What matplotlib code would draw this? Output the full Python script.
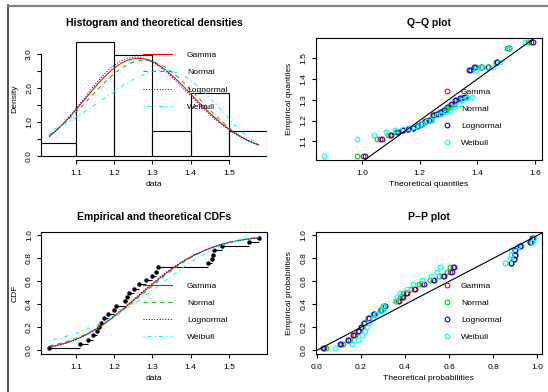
import math
import numpy as np
import matplotlib
matplotlib.use('Agg')
import matplotlib.pyplot as plt
from matplotlib.lines import Line2D

plt.rcParams['font.family'] = ['Liberation Sans', 'DejaVu Sans']
plt.rcParams['font.size'] = 6.1
plt.rcParams['axes.linewidth'] = 0.8

obs = np.array([1.030, 1.109, 1.130, 1.143, 1.154, 1.160, 1.165, 1.174, 1.184,
                1.198, 1.204, 1.227, 1.233, 1.239, 1.252, 1.265, 1.282, 1.298,
                1.310, 1.315, 1.445, 1.457, 1.459, 1.460, 1.483, 1.552, 1.578])
hist_breaks = [1.0, 1.1, 1.2, 1.3, 1.4, 1.5, 1.6]
fit_names = ['Gamma', 'Normal', 'Lognormal', 'Weibull']
fit_colors = ['#FF0000', '#00CD00', '#0000FF', '#00FFFF']
fit_styles = ['-', (0, (4, 4)), (0, (1, 1.6)), (0, (1, 3, 4, 3))]

n = len(obs)
pp = (np.arange(1, n + 1) - 0.5) / n


# ---- maximum likelihood fits ----
def digamma(x):
    r = 0.0
    while x < 6:
        r -= 1.0 / x
        x += 1.0
    f = 1.0 / (x * x)
    return r + math.log(x) - 0.5 / x - f * (1/12 - f * (1/120 - f * (1/252 - f * (1/240 - f / 132))))


def bisect(fn, lo, hi):
    for _ in range(200):
        mid = math.sqrt(lo * hi)
        if fn(mid) > 0:
            hi = mid
        else:
            lo = mid
    return mid


lx = np.log(obs)
mu, sd = obs.mean(), obs.std()
mlog, slog = lx.mean(), lx.std()
s_g = math.log(obs.mean()) - lx.mean()
g_shape = bisect(lambda k: s_g - (math.log(k) - digamma(k)), 0.01, 1e5)
g_rate = g_shape / obs.mean()
w_shape = bisect(lambda k: np.sum(obs**k * lx) / np.sum(obs**k) - 1/k - lx.mean(), 0.1, 500)
w_scale = np.mean(obs**w_shape) ** (1 / w_shape)


def dens(name, x):
    if name == 'Normal':
        return np.exp(-(x - mu)**2 / (2 * sd**2)) / (sd * np.sqrt(2 * np.pi))
    if name == 'Lognormal':
        return np.exp(-(np.log(x) - mlog)**2 / (2 * slog**2)) / (x * slog * np.sqrt(2 * np.pi))
    if name == 'Gamma':
        return np.exp(g_shape * np.log(g_rate) + (g_shape - 1) * np.log(x) - g_rate * x - math.lgamma(g_shape))
    return (w_shape / w_scale) * (x / w_scale)**(w_shape - 1) * np.exp(-(x / w_scale)**w_shape)


grid = np.linspace(0.2, 2.6, 24001)
cdf_tab = {}
for nm in fit_names:
    d = dens(nm, grid)
    c = np.concatenate([[0], np.cumsum((d[1:] + d[:-1]) / 2 * np.diff(grid))])
    cdf_tab[nm] = c / c[-1]


def pfun(nm, x):
    return np.interp(x, grid, cdf_tab[nm])


def qfun(nm, p):
    return np.interp(p, cdf_tab[nm], grid)


# ---- figure ----
W, H = 548, 392
fig = plt.figure(figsize=(W / 100, H / 100), dpi=100)


def px_axes(l, t, r, b):
    return fig.add_axes([l / W, 1 - b / H, (r - l) / W, (b - t) / H])


ax1 = px_axes(41, 37.7, 267, 160.3)
ax2 = px_axes(315.7, 37.7, 541.7, 160.3)
ax3 = px_axes(41, 231.7, 267, 354.3)
ax4 = px_axes(315.7, 231.7, 541.7, 354.3)

LW = 0.75


def style(ax, title, xl, yl):
    ax.set_title(title, fontsize=7.5, fontweight='bold', pad=8.1)
    ax.set_xlabel(xl)
    ax.set_ylabel(yl)
    ax.xaxis.set_label_coords(0.5, -0.171)
    ax.yaxis.set_label_coords(-0.100, 0.5)
    ax.tick_params(axis='both', length=3, width=0.8, labelsize=6.1)
    ax.tick_params(axis='x', pad=3.7)
    ax.tick_params(axis='y', pad=2.7)
    for lab in ax.get_yticklabels():
        lab.set_rotation(90)
        lab.set_va('center')


def line_legend(ax, fy):
    hs = [Line2D([], [], color=c, ls=s, lw=LW) for c, s in zip(fit_colors, fit_styles)]
    ax.legend(hs, fit_names, loc='upper left', bbox_to_anchor=(0.4527, fy), frameon=False,
              handlelength=3.4, handletextpad=1.75, labelspacing=1.08, borderpad=0,
              borderaxespad=0, fontsize=6.1)


def point_legend(ax, fy):
    hs = [Line2D([], [], ls='none', marker='o', mfc='none', mec=c, ms=3.4, mew=0.8) for c in fit_colors]
    ax.legend(hs, fit_names, loc='upper left', bbox_to_anchor=(0.561, fy), frameon=False,
              handlelength=1.0, handletextpad=1.2, labelspacing=1.08, borderpad=0,
              borderaxespad=0, fontsize=6.1)


xs = np.linspace(obs.min(), obs.max(), 301)
xr = obs.max() - obs.min()
xlim_data = (obs.min() - 0.04 * xr, obs.max() + 0.04 * xr)

# panel 1: histogram and densities
ax1.hist(obs, bins=hist_breaks, density=True, facecolor='none', edgecolor='black', linewidth=0.8)
for nm, c, s in zip(fit_names, fit_colors, fit_styles):
    ax1.plot(xs, dens(nm, xs), color=c, ls=s, lw=LW)
ax1.set_xlim(xlim_data)
ax1.set_ylim(-0.135, 3.47)
ax1.set_xticks([1.1, 1.2, 1.3, 1.4, 1.5])
ax1.set_yticks([0, 0.5, 1, 1.5, 2, 2.5, 3])
ax1.set_yticklabels(['0.0', '', '1.0', '', '2.0', '', '3.0'])
ax1.spines['top'].set_visible(False)
ax1.spines['right'].set_visible(False)
ax1.spines['left'].set_bounds(0, 3)
ax1.spines['bottom'].set_bounds(1.1, 1.5)
style(ax1, 'Histogram and theoretical densities', 'data', 'Density')
line_legend(ax1, 0.888)

# panel 2: Q-Q plot
allq = []
for nm, c in zip(fit_names, fit_colors):
    q = qfun(nm, pp)
    allq.append(q)
    ax2.plot(q, obs, ls='none', marker='o', mfc='none', mec=c, ms=3.4, mew=0.8)
allq = np.concatenate(allq)
qr = allq.max() - allq.min()
ax2.set_xlim(allq.min() - 0.04 * qr, allq.max() + 0.04 * qr)
ax2.set_ylim(xlim_data)
ax2.axline((1, 1), slope=1, color='black', lw=0.8)
ax2.set_xticks([1.0, 1.2, 1.4, 1.6])
ax2.set_yticks([1.1, 1.2, 1.3, 1.4, 1.5])
style(ax2, 'Q\u2212Q plot', 'Theoretical quantiles', 'Empirical quantiles')
point_legend(ax2, 0.588)

# panel 3: CDFs
ax3.hlines(pp[:-1], obs[:-1], obs[1:], color='black', lw=0.8)
ax3.plot(obs, pp, ls='none', marker='o', color='black', ms=2.2)
for nm, c, s in zip(fit_names, fit_colors, fit_styles):
    ax3.plot(xs, pfun(nm, xs), color=c, ls=s, lw=LW)
ax3.set_xlim(xlim_data)
ax3.set_ylim(-0.034, 1.032)
ax3.set_xticks([1.1, 1.2, 1.3, 1.4, 1.5])
ax3.set_yticks([0, 0.2, 0.4, 0.6, 0.8, 1.0])
ax3.set_yticklabels(['0.0', '0.2', '0.4', '0.6', '0.8', '1.0'])
style(ax3, 'Empirical and theoretical CDFs', 'data', 'CDF')
line_legend(ax3, 0.590)

# panel 4: P-P plot
for nm, c in zip(fit_names, fit_colors):
    ax4.plot(pfun(nm, obs), pp, ls='none', marker='o', mfc='none', mec=c, ms=3.4, mew=0.8)
ax4.axline((0, 0), slope=1, color='black', lw=0.8)
ax4.set_xlim(-0.005, 1.02)
ax4.set_ylim(-0.034, 1.032)
ax4.set_xticks([0, 0.2, 0.4, 0.6, 0.8, 1.0])
ax4.set_xticklabels(['0.0', '0.2', '0.4', '0.6', '0.8', '1.0'])
ax4.set_yticks([0, 0.2, 0.4, 0.6, 0.8, 1.0])
ax4.set_yticklabels(['0.0', '0.2', '0.4', '0.6', '0.8', '1.0'])
style(ax4, 'P\u2212P plot', 'Theoretical probabilities', 'Empirical probabilities')
point_legend(ax4, 0.590)

# page border
fig.add_artist(Line2D([8 / W, 8 / W], [0, 1 - 5 / H], transform=fig.transFigure, color='#333333', lw=1.2))
fig.add_artist(Line2D([8 / W, 1], [1 - 5.7 / H, 1 - 5.7 / H], transform=fig.transFigure, color='#808080', lw=1.6))

fig.savefig('out.png', dpi=100)
